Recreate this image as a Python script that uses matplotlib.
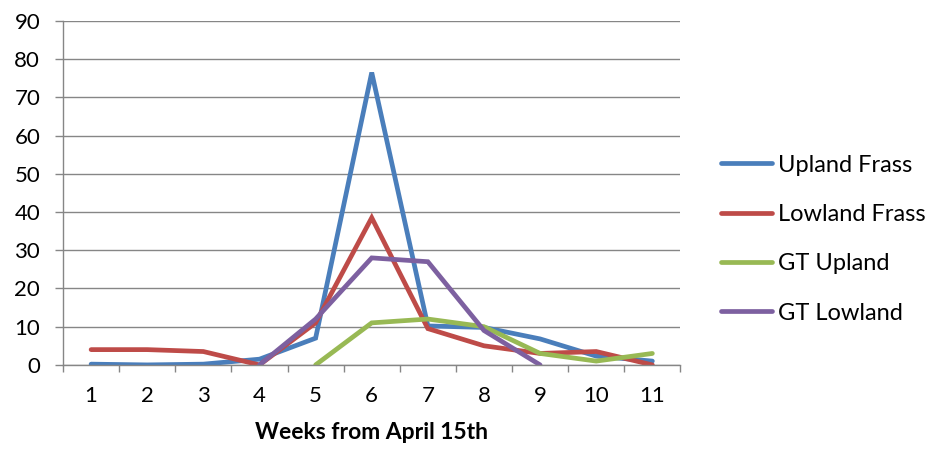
import matplotlib
matplotlib.use("Agg")
import matplotlib.pyplot as plt
import numpy as np

weeks = [1, 2, 3, 4, 5, 6, 7, 8, 9, 10, 11]
upland_frass = [0.2, 0.0, 0.2, 1.5, 7.0, 76.5, 10.2, 9.8, 6.8, 2.3, 1.0]
lowland_frass = [4.0, 4.0, 3.5, 0.0, 11.0, 38.5, 9.5, 5.0, 3.0, 3.5, 0.0]
gt_upland = [None, None, None, None, 0.0, 11.0, 12.0, 10.0, 3.0, 1.0, 3.0]
gt_lowland = [None, None, None, 0.0, 12.0, 28.0, 27.0, 9.0, 0.0, None, None]

series = [
    ("Upland Frass", upland_frass, "#4A7EBB"),
    ("Lowland Frass", lowland_frass, "#BE4B48"),
    ("GT Upland", gt_upland, "#98B954"),
    ("GT Lowland", gt_lowland, "#7D60A0"),
]

plt.rcParams['font.family'] = ['Lato', 'DejaVu Sans']

fig = plt.figure(figsize=(9.34, 4.55), dpi=100)
ax = fig.add_axes([0.0675, 0.198, 0.661, 0.756])

for name, vals, col in series:
    y = np.array([np.nan if v is None else v for v in vals], dtype=float)
    ax.plot(weeks, y, color=col, lw=3.4, label=name, solid_capstyle='round', solid_joinstyle='miter')

ax.set_xlim(0.5, 11.5)
ax.set_ylim(0, 90)
ax.set_yticks(np.arange(0, 91, 10))
ax.set_xticks(weeks)
ax.set_xticks(np.arange(0.5, 11.6, 1), minor=True)
ax.tick_params(axis='x', which='major', length=0, labelsize=16, pad=15)
ax.tick_params(axis='x', which='minor', length=5, color='#868686', width=1)
ax.tick_params(axis='y', length=5.5, color='#868686', width=1, labelsize=16, pad=11)
ax.grid(axis='y', color='#868686', lw=1)
ax.set_axisbelow(True)
for s in ['top', 'right']:
    ax.spines[s].set_visible(False)
for s in ['left', 'bottom']:
    ax.spines[s].set_color('#868686')
    ax.spines[s].set_linewidth(1)

ax.set_xlabel("Weeks from April 15th", fontsize=16.5, fontweight='bold', labelpad=12)

leg = ax.legend(loc='center left', bbox_to_anchor=(1.065, 0.366), frameon=False,
                fontsize=17, handlelength=2.2, handletextpad=0.25, labelspacing=1.2,
                borderpad=0, borderaxespad=0)

fig.savefig("out.png", dpi=100)
